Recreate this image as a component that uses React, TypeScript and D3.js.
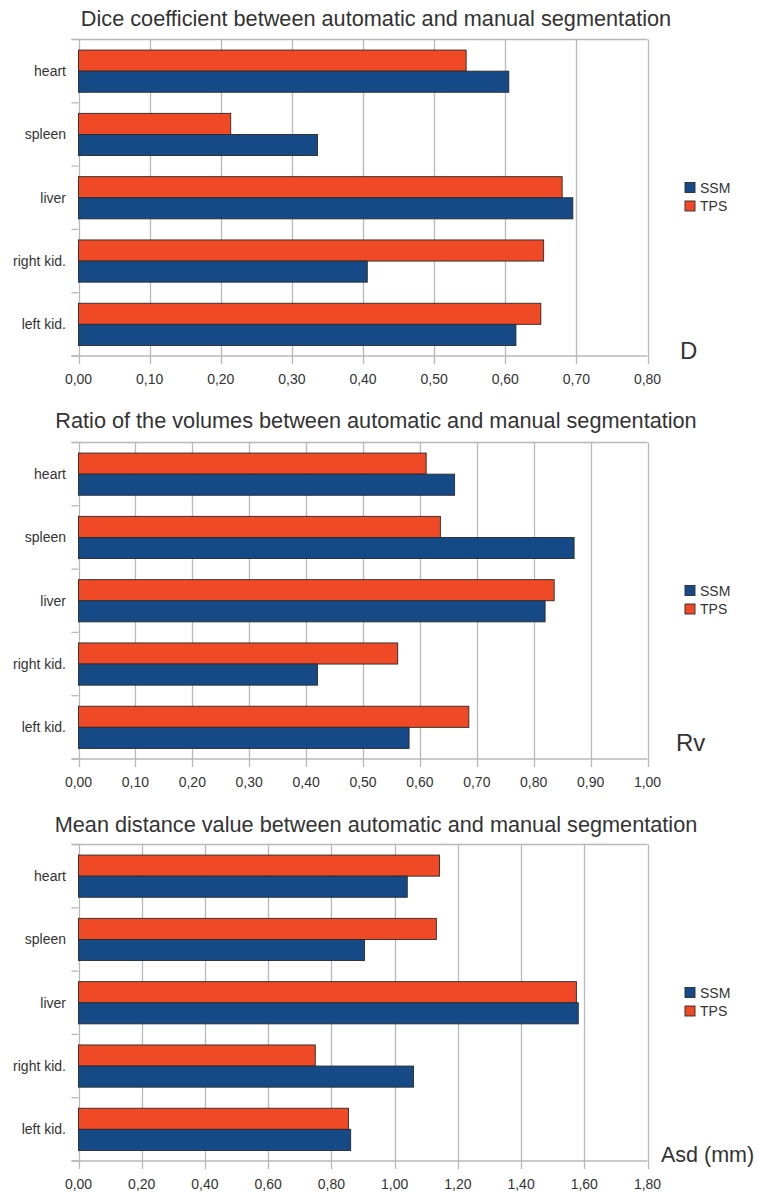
import React from "react";
import * as d3 from "d3";

const categories = ["heart", "spleen", "liver", "right kid.", "left kid."];
const seriesNames = ["SSM", "TPS"];

const diceSSM = [0.605, 0.336, 0.695, 0.406, 0.615];
const diceTPS = [0.545, 0.214, 0.68, 0.654, 0.65];

const ratioSSM = [0.661, 0.871, 0.82, 0.42, 0.581];
const ratioTPS = [0.611, 0.636, 0.836, 0.561, 0.686];

const asdSSM = [1.04, 0.905, 1.581, 1.06, 0.861];
const asdTPS = [1.142, 1.132, 1.575, 0.749, 0.854];

const diceTicks = [0, 0.1, 0.2, 0.3, 0.4, 0.5, 0.6, 0.7, 0.8];
const ratioTicks = [0, 0.1, 0.2, 0.3, 0.4, 0.5, 0.6, 0.7, 0.8, 0.9, 1.0];
const asdTicks = [0, 0.2, 0.4, 0.6, 0.8, 1.0, 1.2, 1.4, 1.6, 1.8];

const titles = [
  "Dice coefficient between automatic and manual segmentation",
  "Ratio of the volumes between automatic and manual segmentation",
  "Mean distance value between automatic and manual segmentation",
];
const axisTitles = ["D", "Rv", "Asd (mm)"];

const COLORS: Record<string, string> = { SSM: "#154a86", TPS: "#ef4925" };
const GRID = "#b8b8b8";
const TEXT = "#333333";
const FONT = "'Liberation Sans', Arial, sans-serif";

interface ChartCfg {
  title: string;
  axisTitle: string;
  ssm: number[];
  tps: number[];
  ticks: number[];
  top: number;
  titleY: number;
  axisTitleX: number;
  axisTitleY: number;
  axisTitleSize: number;
}

const charts: ChartCfg[] = [
  { title: titles[0], axisTitle: axisTitles[0], ssm: diceSSM, tps: diceTPS, ticks: diceTicks, top: 39.5, titleY: 26, axisTitleX: 680, axisTitleY: 359, axisTitleSize: 24 },
  { title: titles[1], axisTitle: axisTitles[1], ssm: ratioSSM, tps: ratioTPS, ticks: ratioTicks, top: 442.5, titleY: 428, axisTitleX: 676, axisTitleY: 751, axisTitleSize: 24 },
  { title: titles[2], axisTitle: axisTitles[2], ssm: asdSSM, tps: asdTPS, ticks: asdTicks, top: 844.5, titleY: 831.5, axisTitleX: 661, axisTitleY: 1162, axisTitleSize: 21.5 },
];

const LEFT = 78.5;
const RIGHT = 647.5;
const PLOT_H = 316.5;

function Chart({ cfg }: { cfg: ChartCfg }) {
  const top = cfg.top;
  const bottom = top + PLOT_H;
  const x = d3
    .scaleLinear()
    .domain([0, cfg.ticks[cfg.ticks.length - 1]])
    .range([LEFT, RIGHT]);
  const y = d3.scaleBand<string>().domain(categories).range([top, bottom]).padding(0);
  const bw = y.bandwidth();
  const inner = d3
    .scaleBand<string>()
    .domain(["TPS", "SSM"])
    .range([bw / 6, (bw * 5) / 6])
    .padding(0);
  const fmt = (v: number) => d3.format(".2f")(v).replace(".", ",");
  const boundaries = categories.map((c) => y(c) as number).concat([bottom]);
  const data: Record<string, number[]> = { SSM: cfg.ssm, TPS: cfg.tps };

  return (
    <g>
      <text x={376} y={cfg.titleY} textAnchor="middle" fontSize={21.7} fill={TEXT} fontFamily={FONT}>
        {cfg.title}
      </text>
      {/* grid */}
      {cfg.ticks.map((t, i) => (
        <g key={"g" + i}>
          <line x1={Math.round(x(t)) + 0.5} x2={Math.round(x(t)) + 0.5} y1={top} y2={bottom + 8} stroke={GRID} strokeWidth={1.3} />
          <text x={x(t)} y={bottom + 28} textAnchor="middle" fontSize={14} fill={TEXT} fontFamily={FONT}>
            {fmt(t)}
          </text>
        </g>
      ))}
      {/* horizontal border lines and category stubs */}
      <line x1={LEFT - 7} x2={RIGHT} y1={top} y2={top} stroke={GRID} strokeWidth={1.3} />
      <line x1={LEFT - 7} x2={RIGHT} y1={bottom} y2={bottom} stroke={GRID} strokeWidth={1.3} />
      {boundaries.map((b, i) => (
        <line key={"s" + i} x1={LEFT - 7} x2={LEFT} y1={b} y2={b} stroke={GRID} strokeWidth={1.3} />
      ))}
      {/* bars */}
      {categories.map((c, ci) => (
        <g key={c}>
          {["TPS", "SSM"].map((s) => (
            <rect
              key={s}
              x={x(0)}
              y={(y(c) as number) + (inner(s) as number)}
              width={x(data[s][ci]) - x(0)}
              height={inner.bandwidth()}
              fill={COLORS[s]}
              stroke="#2a2a2a"
              strokeWidth={0.9}
            />
          ))}
          <text
            x={66}
            y={(y(c) as number) + bw / 2 + 5}
            textAnchor="end"
            fontSize={14}
            fill={TEXT}
            fontFamily={FONT}
          >
            {c}
          </text>
        </g>
      ))}
      {/* legend */}
      {seriesNames.map((s, i) => (
        <g key={"l" + s}>
          <rect x={685} y={top + 143 + i * 18.5} width={10} height={10} fill={COLORS[s]} stroke="#2a2a2a" strokeWidth={0.9} />
          <text x={700} y={top + 153 + i * 18.5} fontSize={14} fill={TEXT} fontFamily={FONT}>
            {s}
          </text>
        </g>
      ))}
      <text x={cfg.axisTitleX} y={cfg.axisTitleY} fontSize={cfg.axisTitleSize} fill={TEXT} fontFamily={FONT}>
        {cfg.axisTitle}
      </text>
    </g>
  );
}

export default function App() {
  return (
    <div style={{ position: "absolute", left: 0, top: 0 }}>
      <svg width={757} height={1193} style={{ display: "block", background: "#ffffff" }}>
        {charts.map((c, i) => (
          <Chart key={i} cfg={c} />
        ))}
      </svg>
    </div>
  );
}
